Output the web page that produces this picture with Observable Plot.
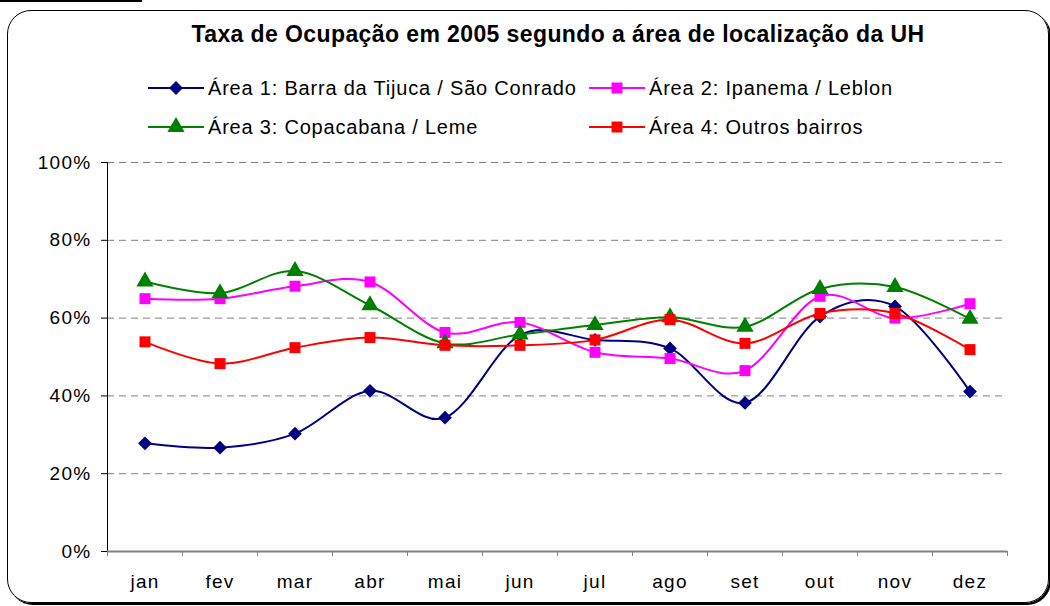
<!DOCTYPE html>
<html>
<head>
<meta charset="utf-8">
<script src="https://cdn.jsdelivr.net/npm/d3@7"></script>
<script src="https://cdn.jsdelivr.net/npm/@observablehq/plot@0.6"></script>
<style>
  body { margin: 0; background: #fff; }
  #wrap { position: relative; width: 1050px; height: 606px; overflow: hidden; background: #fff;
          font-family: "Liberation Sans", Arial, sans-serif; color: #000; }
  #topline { position: absolute; left: 0; top: 0; width: 142px; height: 2px; background: #000; }
  #frame { position: absolute; left: 7px; top: 10px; width: 1040px; height: 591px;
           border: 1.5px solid #000; border-radius: 24px; box-shadow: 2px 2px 0 #000; }
  #title { position: absolute; left: 0; top: 22px; width: 1116px; text-align: center; line-height: 24px;
           font-weight: bold; font-size: 23px; letter-spacing: 0.4px; white-space: nowrap; }
  .leg { position: absolute; display: flex; align-items: center; font-size: 20px; letter-spacing: 0.8px; white-space: nowrap; }
  .leg svg { margin-right: 4px; }
  #chart { position: absolute; left: 0; top: 140px; }
  #chart svg text { letter-spacing: 1.3px; }
</style>
</head>
<body>
<div id="wrap">
  <div id="topline"></div>
  <div id="frame"></div>
  <div id="title">Taxa de Ocupação em 2005 segundo a área de localização da UH</div>
  <div id="legend"></div>
  <div id="chart"></div>
</div>
<script>
const months = ["jan","fev","mar","abr","mai","jun","jul","ago","set","out","nov","dez"];
const seriesNames = [
  "Área 1: Barra da Tijuca / São Conrado",
  "Área 2: Ipanema / Leblon",
  "Área 3: Copacabana / Leme",
  "Área 4: Outros bairros"
];
const area1 = [27.8, 26.7, 30.3, 41.3, 34.4, 55.6, 54.4, 52.2, 38.2, 60.4, 63.0, 41.1];
const area2 = [65.0, 65.0, 68.2, 69.3, 56.3, 58.9, 51.2, 49.6, 46.5, 65.6, 60.0, 63.7];
const area3 = [69.4, 66.4, 72.1, 63.3, 53.5, 55.8, 58.2, 60.2, 57.8, 67.5, 68.0, 59.8];
const area4 = [53.9, 48.3, 52.4, 55.0, 53.0, 53.0, 54.4, 59.6, 53.5, 61.2, 61.2, 51.9];
const yTicks = [0, 0.2, 0.4, 0.6, 0.8, 1.0];
const colors = ["#000080", "#FF00FF", "#008000", "#FF0000"];
const symbols = ["square", "square", "triangle", "square"];
const rotations = [45, 0, 0, 0];
const markerR = [5.5, 6.2, 6.4, 6.2];

const allSeries = [area1, area2, area3, area4];
const data = allSeries.flatMap((vals, s) =>
  vals.map((v, i) => ({ s: seriesNames[s], i, x: i + 0.5, y: v / 100, month: months[i] })));

// Legend (HTML)
const legPos = [[148, 76], [589, 76], [148, 115], [589, 115]];
const legend = document.getElementById("legend");
seriesNames.forEach((name, k) => {
  const div = document.createElement("div");
  div.className = "leg";
  div.style.left = legPos[k][0] + "px";
  div.style.top = legPos[k][1] + "px";
  const sw = d3.create("svg").attr("width", 56).attr("height", 24);
  sw.append("line").attr("x1", 0).attr("x2", 56).attr("y1", 12).attr("y2", 12)
    .attr("stroke", colors[k]).attr("stroke-width", 2);
  const symType = { square: d3.symbolSquare, triangle: d3.symbolTriangle }[symbols[k]];
  sw.append("path").attr("transform", `translate(28,12) rotate(${rotations[k]})`)
    .attr("d", d3.symbol(symType, Math.PI * markerR[k] * markerR[k])())
    .attr("fill", colors[k]);
  div.appendChild(sw.node());
  const span = document.createElement("span");
  span.textContent = name;
  div.appendChild(span);
  legend.appendChild(div);
});

const marks = [
  Plot.gridY(yTicks.filter(d => d > 0), { stroke: "#808080", strokeOpacity: 1, strokeWidth: 1, strokeDasharray: "7,5" }),
  Plot.axisY(yTicks, { label: null, tickFormat: d => Math.round(d * 100) + "%", tickSize: 6, tickPadding: 10,
                       fontSize: 19, stroke: "#000", color: "#000" }),
  Plot.ruleX([0], { stroke: "#000", strokeWidth: 1 }),
  Plot.axisX(d3.range(13), { label: null, tickFormat: () => "", tickSize: 5, stroke: "#808080" }),
  Plot.axisX(d3.range(12).map(i => i + 0.5), { label: null, tickFormat: d => months[Math.floor(d)], tickSize: 0,
                       tickPadding: 23, fontSize: 19, color: "#000" }),
  Plot.ruleY([0], { stroke: "#808080", strokeWidth: 2 })
];
seriesNames.forEach((name, k) => {
  const sub = data.filter(d => d.s === name);
  marks.push(Plot.line(sub, { x: "x", y: "y", stroke: colors[k], strokeWidth: 2,
                              curve: "cardinal", tension: 0 }));
  marks.push(Plot.dot(sub, { x: "x", y: "y", fill: colors[k], symbol: () => symbols[k], rotate: rotations[k],
                             r: markerR[k], stroke: "none" }));
});

const chart = Plot.plot({
  width: 1050,
  height: 466,
  marginTop: 22,
  marginLeft: 107,
  marginRight: 43,
  marginBottom: 55,
  style: { fontFamily: "'Liberation Sans', Arial, sans-serif", fontSize: "19px", background: "transparent", overflow: "visible" },
  x: { domain: [0, 12], axis: null },
  y: { domain: [0, 1], axis: null },
  symbol: { type: "identity" },
  marks
});
document.getElementById("chart").appendChild(chart);
</script>
</body>
</html>
